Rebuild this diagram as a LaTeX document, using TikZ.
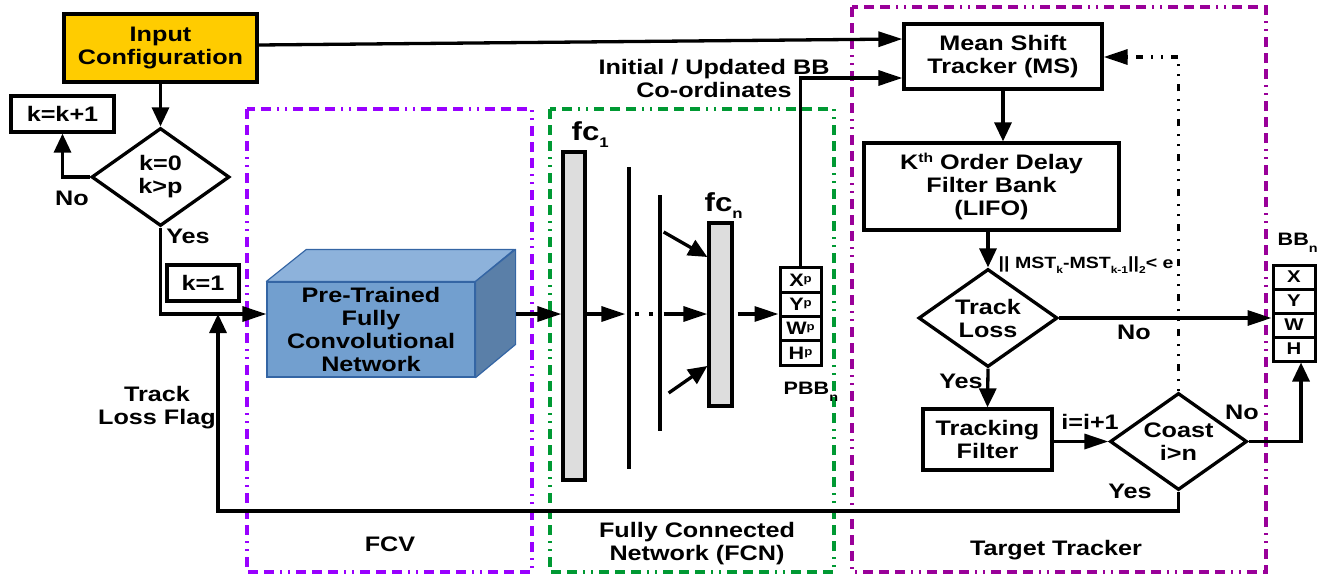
\documentclass[tikz,border=0pt]{standalone}
\usepackage{fontspec}
\setmainfont{Liberation Sans}[FakeStretch=1.2]
\usetikzlibrary{arrows.meta,shapes.geometric,calc}

\definecolor{cfgyellow}{HTML}{FFCC00}
\definecolor{fcvviolet}{HTML}{9900FF}
\definecolor{fcngreen}{HTML}{009933}
\definecolor{ttpurple}{HTML}{990099}
\definecolor{barfill}{HTML}{DDDDDD}
\definecolor{cubefront}{HTML}{729FCF}
\definecolor{cubetop}{HTML}{8DB2DB}
\definecolor{cuberight}{HTML}{5A7FA8}
\definecolor{cubeedge}{HTML}{3465A4}

% raised or lowered small text: #1 shift, #2 size, #3 text
\newcommand\shifttxt[3]{\raisebox{#1}{\fontsize{#2}{#2}\selectfont #3}}

\begin{document}
\begin{tikzpicture}[x=1pt,y=-1pt,line width=3.3pt,
  every node/.style={inner sep=0pt,align=center,font=\bfseries\fontsize{21}{23}\selectfont},
  box/.style={draw,line width=3.3pt},
  decision/.style={draw,diamond,aspect=1.4,line width=3.3pt},
  cell/.style={draw,line width=3pt,minimum width=41pt,minimum height=24.25pt,
    font=\bfseries\fontsize{18}{18}\selectfont},
  bbcell/.style={draw,line width=3pt,minimum width=42pt,minimum height=24pt,
    font=\bfseries\fontsize{17}{17}\selectfont},
  bar/.style={draw,fill=barfill,line width=3.3pt},
  wire/.style={fill=black,minimum width=4pt},
  harr/.style={-{Triangle[length=24pt,width=15pt]}},
  varr/.style={-{Triangle[length=19pt,width=17pt]}},
  region/.style={line width=3.3pt,
    dash pattern=on 10pt off 6pt on 10pt off 6pt on 10pt off 6pt on 2pt off 6pt on 2pt off 6pt},
  feedback/.style={line width=3.3pt,dash pattern=on 2pt off 8pt on 2pt off 8pt on 7pt off 8pt}]

\useasboundingbox (0,0) rectangle (1335,576);

% group frames
\draw[region,fcvviolet] (247,109) rectangle (532,572);
\draw[region,fcngreen] (550,109) rectangle (834,572);
\draw[region,ttpurple] (852,7) rectangle (1266,572);

\node (fcvlbl) at (390,544) {FCV};
\node (fcnlbl) at (697,544) {Fully Connected\\Network (FCN)};
\node (ttlbl) at (1056,550) {Target Tracker};

% initialisation logic
\node[box,fill=cfgyellow,minimum width=193pt,minimum height=68pt] (cfg) at (160.5,48) {Input\\Configuration};
\node[box,minimum width=103pt,minimum height=36pt] (kinc) at (62.5,114) {k=k+1};
\node[decision,minimum width=138pt,minimum height=98pt] (dec) at (160.5,177) {k=0\\k>p};
\node[box,minimum width=72pt,minimum height=36pt] (kone) at (203,283) {k=1};
\node (no1) at (72,198) {No};
\node (yes1) at (188,236) {Yes};
\node (flag) at (157,408) {Track\\Loss Flag};

% convolutional block
\node[draw=cubeedge,fill=cubefront,line width=1.2pt,minimum width=208pt,minimum height=95pt]
  (cnn) at (371,329.5) {Pre-Trained\\Fully\\Convolutional\\Network};
\filldraw[fill=cubetop,draw=cubeedge,line width=1.2pt,line join=round]
  (cnn.north west) -- ++(40,-32) -- ++(208,0) -- (cnn.north east) -- cycle;
\filldraw[fill=cuberight,draw=cubeedge,line width=1.2pt,line join=round]
  (cnn.north east) -- ++(40,-32) -- ++(0,95) -- (cnn.south east) -- cycle;
\coordinate (cnnback) at ($(cnn.east)+(40,0)$);

% fully connected layers
\node[bar,minimum width=22pt,minimum height=328pt] (fc1) at (574,316) {};
\node[wire,minimum height=302pt] (l2) at (629,318) {};
\node[wire,minimum height=236pt] (l3) at (660,313) {};
\node[bar,minimum width=23pt,minimum height=183pt] (fcn) at (720.5,314.5) {};
\node[anchor=base west,font=\bfseries\fontsize{26}{26}\selectfont] (fc1lbl) at (570,140)
  {fc\shifttxt{-7pt}{14}{1}};
\node[anchor=base west,font=\bfseries\fontsize{26}{26}\selectfont] (fcnlbl2) at (703,211)
  {fc\shifttxt{-7pt}{14}{n}};
\fill (635,312) rectangle ++(4,4);
\fill (649,312) rectangle ++(4,4);

% predicted bounding box
\node[cell] (xp) at (800.5,280.1) {X\shifttxt{4pt}{11}{p}};
\node[cell] (yp) at (800.5,304.4) {Y\shifttxt{4pt}{11}{p}};
\node[cell] (wp) at (800.5,328.6) {W\shifttxt{4pt}{11}{p}};
\node[cell] (hp) at (800.5,352.9) {H\shifttxt{4pt}{11}{p}};
\node[anchor=base west,font=\bfseries\fontsize{18}{18}\selectfont] (pbblbl) at (782,394)
  {PBB\shifttxt{-7pt}{12}{n}};
\node (bblbl) at (714,78) {Initial / Updated BB\\Co-ordinates};

% target tracker
\node[box,minimum width=198pt,minimum height=65pt] (ms) at (1003,56.5) {Mean Shift\\Tracker (MS)};
\node[box,minimum width=255pt,minimum height=87pt] (kod) at (991.5,186.5)
  {K\shifttxt{7pt}{13}{th} Order Delay\\Filter Bank\\(LIFO)};
\node[decision,minimum width=139pt,minimum height=98pt] (tl) at (988,318) {Track\\Loss};
\node[box,minimum width=129pt,minimum height=61pt] (tf) at (987.5,439.5) {Tracking\\Filter};
\node[decision,minimum width=137pt,minimum height=97pt] (coast) at (1178.5,441.5) {Coast\\i>n};
\node[anchor=base west,font=\bfseries\fontsize{16.3}{16.3}\selectfont] (mstlbl) at (997,268)
  {|| MST\shifttxt{-5pt}{10}{k}-MST\shifttxt{-5pt}{10}{k-1}||\shifttxt{-5pt}{10}{2}< e};
\node (no2) at (1134,332) {No};
\node (yes2) at (961,381) {Yes};
\node (iinc) at (1090,422) {i=i+1};
\node (no3) at (1242,412) {No};
\node (yes3) at (1130,491) {Yes};

% output bounding box
\node[bbcell] (bx) at (1294,277) {X};
\node[bbcell] (by) at (1294,301) {Y};
\node[bbcell] (bw) at (1294,325) {W};
\node[bbcell] (bh) at (1294,349) {H};
\node[anchor=base west,font=\bfseries\fontsize{18}{18}\selectfont] (bbnlbl) at (1276,245)
  {BB\shifttxt{-7pt}{12}{n}};

% connectors
\coordinate (fl) at (0,314);
\coordinate (flagcorner) at (218,511);
\coordinate (flagjoin) at (218,314);
\draw[varr] (cfg.south) -- (dec.north);
\draw[varr] (dec.west) -| (kinc.south);
\draw[harr] (dec.south) |- (cnn.west |- fl);
\draw[varr] (coast.south) |- (flagcorner) -- (flagjoin);
\draw[harr] (cnnback |- fl) -- (fc1.west |- fl);
\draw[harr] (fc1.east |- fl) -- (l2.west |- fl);
\draw[harr] (l3.east |- fl) -- (fcn.west |- fl);
\draw[varr] (l3.east |- 0,232) -- (fcn.west |- 0,257);
\draw[varr] ($(l3.east |- 0,393)+(5,0)$) -- (fcn.west |- 0,366);
\draw[harr] ($(fcn.east |- fl)+(4,0)$) -- (yp.west |- fl);
\draw[harr] (xp.north) |- (ms.west |- 0,78);
\draw[harr] (cfg.east |- 0,45) -- (ms.west |- 0,39);
\draw[varr] (ms.south) -- (ms.south |- kod.north);
\draw[varr] (tl.north |- kod.south) -- (tl.north);
\draw[harr] (tl.east) -- (bx.west |- tl.east);
\draw[varr] (tl.south) -- (tf.north);
\draw[harr] (tf.east |- coast.west) -- (coast.west);
\draw[varr] (coast.east) -| ($(bh.south)+(7,0)$);
\draw[harr,feedback] (coast.north) |- (ms.east |- 0,57);
\end{tikzpicture}
\end{document}
